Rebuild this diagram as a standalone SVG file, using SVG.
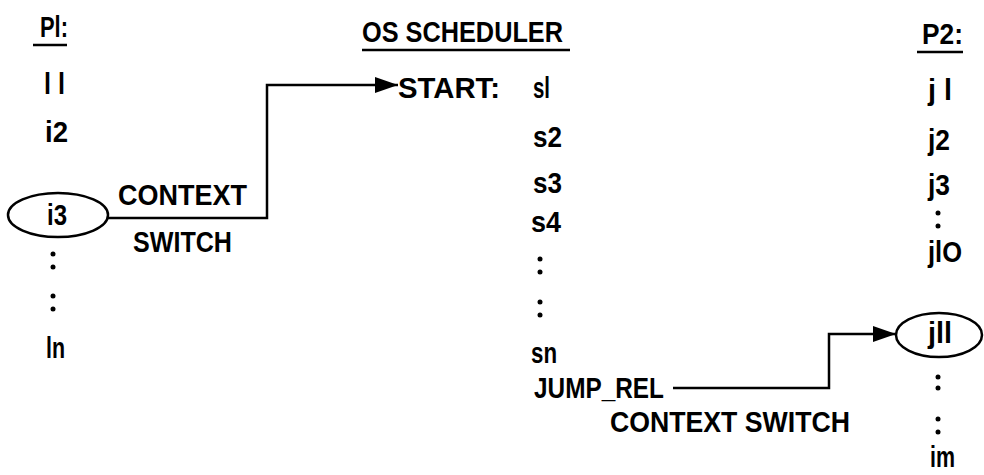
<svg xmlns="http://www.w3.org/2000/svg" width="984" height="475" viewBox="0 0 984 475">
<style>
text{font-family:"Liberation Sans",Arial,sans-serif;font-weight:bold;font-size:29px;fill:#000}
.ln{stroke:#000;stroke-width:2.5;fill:none}
.ul{stroke:#000;stroke-width:2.5}
.ell{stroke:#000;stroke-width:2.5;fill:#fff}
.dot{fill:#000}
</style>
<defs>
<marker id="arr" markerUnits="userSpaceOnUse" markerWidth="24" markerHeight="18" refX="23" refY="8" orient="auto">
<path d="M0,0 L23,8 L0,16 z" fill="#000"/>
</marker>
</defs>
<g id="connectors">
<path class="ln" d="M108,218 H267 V85 H398" marker-end="url(#arr)"/>
<path class="ln" d="M673,388 H829 V334 H896" marker-end="url(#arr)"/>
</g>
<g id="p1">
<text x="40" y="37" textLength="28" lengthAdjust="spacingAndGlyphs">Pl:</text>
<line class="ul" x1="33" y1="45" x2="67" y2="45"/>
<text x="44" y="94" textLength="21" lengthAdjust="spacingAndGlyphs">l l</text>
<text x="45" y="142" textLength="23" lengthAdjust="spacingAndGlyphs">i2</text>
<g id="i3">
<ellipse class="ell" cx="58" cy="215" rx="50" ry="22"/>
<text x="47" y="225" textLength="20" lengthAdjust="spacingAndGlyphs">i3</text>
</g>
<circle class="dot" cx="53" cy="254" r="2.5"/>
<circle class="dot" cx="53" cy="267" r="2.5"/>
<circle class="dot" cx="53" cy="296" r="2.5"/>
<circle class="dot" cx="53" cy="309" r="2.5"/>
<text x="46" y="358" textLength="19" lengthAdjust="spacingAndGlyphs">ln</text>
</g>
<g id="label-cs1">
<text x="118" y="205" textLength="129" lengthAdjust="spacingAndGlyphs">CONTEXT</text>
<text x="133" y="252" textLength="99" lengthAdjust="spacingAndGlyphs">SWITCH</text>
</g>
<g id="os">
<text x="362" y="42" textLength="201" lengthAdjust="spacingAndGlyphs">OS SCHEDULER</text>
<line class="ul" x1="362" y1="50" x2="570" y2="50"/>
<text x="398" y="98" textLength="102" lengthAdjust="spacingAndGlyphs">START:</text>
<text x="533" y="98" textLength="17" lengthAdjust="spacingAndGlyphs">sl</text>
<text x="533" y="147" textLength="29" lengthAdjust="spacingAndGlyphs">s2</text>
<text x="533" y="193" textLength="29" lengthAdjust="spacingAndGlyphs">s3</text>
<text x="531" y="232" textLength="30" lengthAdjust="spacingAndGlyphs">s4</text>
<circle class="dot" cx="540" cy="259" r="2.5"/>
<circle class="dot" cx="540" cy="272" r="2.5"/>
<circle class="dot" cx="540" cy="302" r="2.5"/>
<circle class="dot" cx="540" cy="315" r="2.5"/>
<text x="531" y="363" textLength="26" lengthAdjust="spacingAndGlyphs">sn</text>
<text x="534" y="398" textLength="130" lengthAdjust="spacingAndGlyphs">JUMP_REL</text>
</g>
<g id="label-cs2">
<text x="610" y="432" textLength="240" lengthAdjust="spacingAndGlyphs">CONTEXT SWITCH</text>
</g>
<g id="p2">
<text x="922" y="44" textLength="41" lengthAdjust="spacingAndGlyphs">P2:</text>
<line class="ul" x1="917" y1="52" x2="963" y2="52"/>
<text x="928" y="100" textLength="24" lengthAdjust="spacingAndGlyphs">j l</text>
<text x="928" y="150" textLength="22" lengthAdjust="spacingAndGlyphs">j2</text>
<text x="928" y="195" textLength="22" lengthAdjust="spacingAndGlyphs">j3</text>
<circle class="dot" cx="938" cy="213" r="2.5"/>
<circle class="dot" cx="938" cy="226" r="2.5"/>
<text x="928" y="262" textLength="34" lengthAdjust="spacingAndGlyphs">jlO</text>
<g id="j11">
<ellipse class="ell" cx="939" cy="335" rx="43" ry="22"/>
<text x="928" y="343" textLength="24" lengthAdjust="spacingAndGlyphs">jll</text>
</g>
<circle class="dot" cx="938" cy="377" r="2.5"/>
<circle class="dot" cx="938" cy="388" r="2.5"/>
<circle class="dot" cx="938" cy="419" r="2.5"/>
<circle class="dot" cx="938" cy="432" r="2.5"/>
<text x="930" y="467" textLength="25" lengthAdjust="spacingAndGlyphs">im</text>
</g>
</svg>
